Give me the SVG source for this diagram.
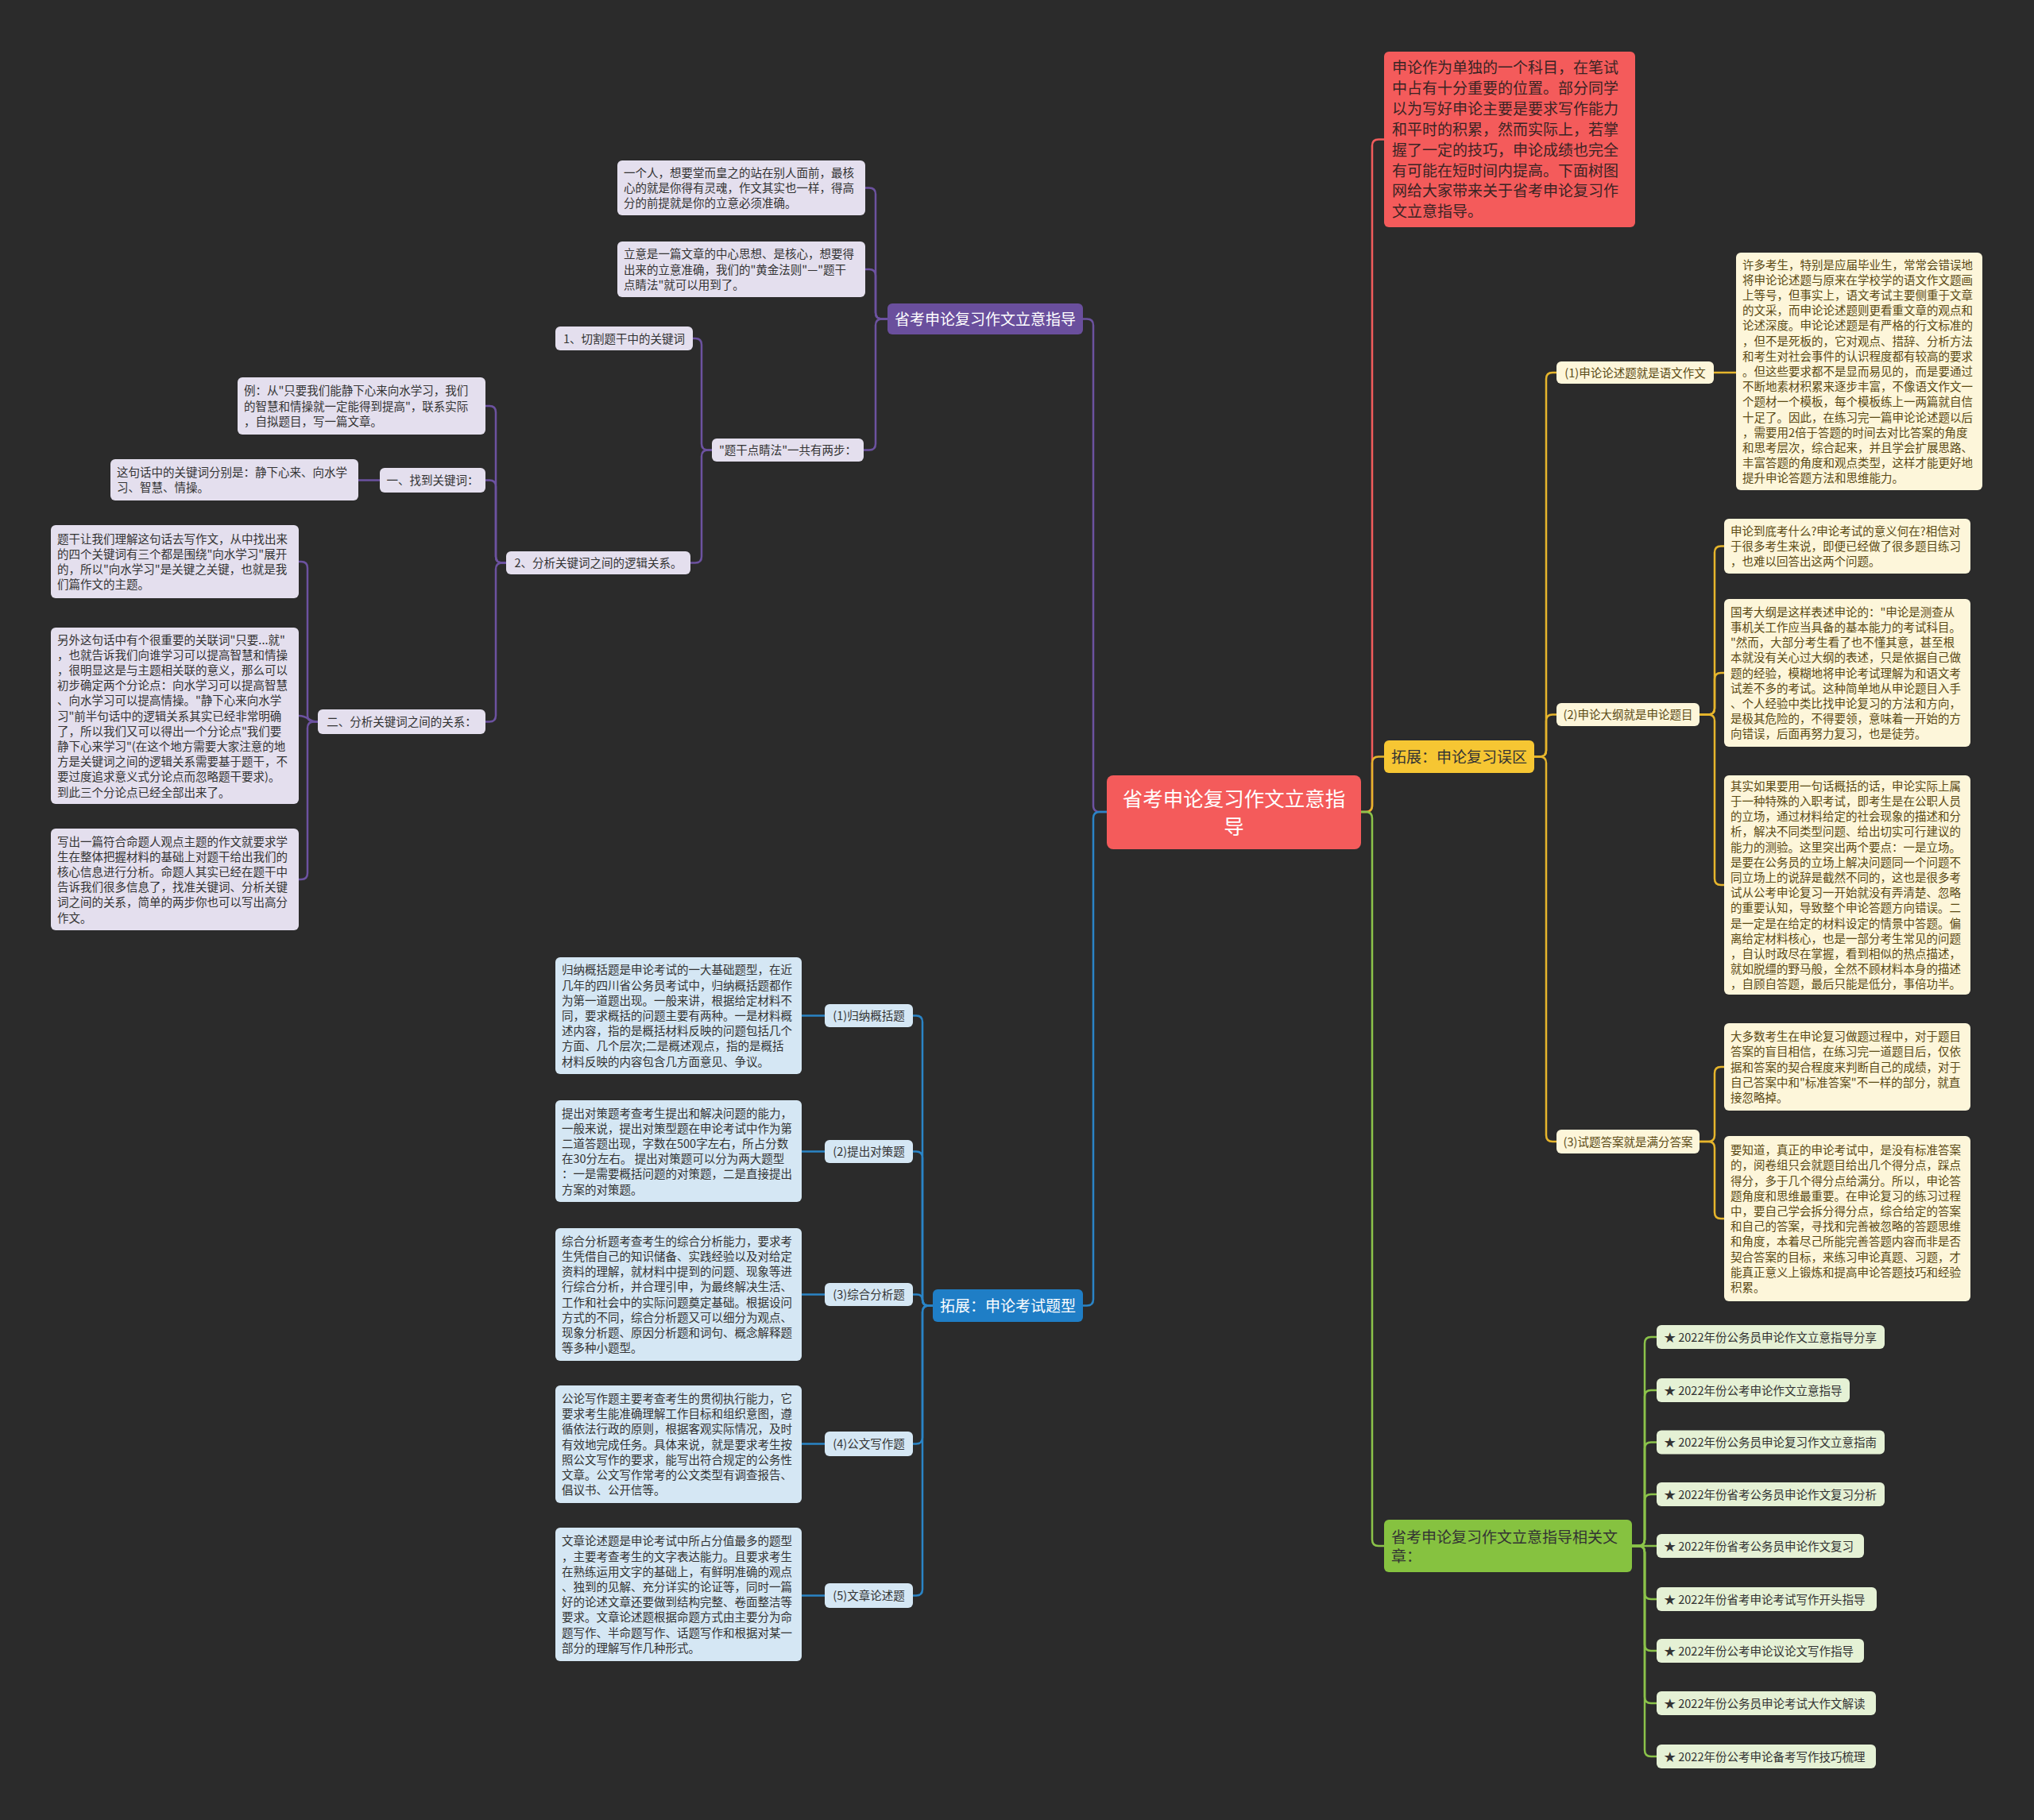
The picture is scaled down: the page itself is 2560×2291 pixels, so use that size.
<svg xmlns="http://www.w3.org/2000/svg" width="2560" height="2291" viewBox="0 0 2560 2291">
<style>
.bg{fill:#2b2b2b}
.t{font-family:"Noto Sans CJK SC","Noto Sans",sans-serif;font-size:14.5px;fill:#333}
.ty{fill:#5b4a14}
.big{font-family:"Noto Sans CJK SC","Noto Sans",sans-serif;font-size:19px}
.ctr{font-family:"Noto Sans CJK SC","Noto Sans",sans-serif;font-size:25.5px;fill:#fff}
.mid{text-anchor:middle}
.w{fill:#fff}
.d{fill:#333}
.lp{fill:#e4dfee}
.lb{fill:#d5e7f4}
.ly{fill:#fdf6da}
.lg{fill:#e5f1d5}
.c{fill:none;stroke-width:2.5}
.cp{stroke:#6c52a0}
.cb{stroke:#2a84c6}
.cy{stroke:#e6b52c}
.cg{stroke:#8bc34a}
.cr{stroke:#f25c5c}
</style>
<rect class="bg" x="0" y="0" width="2560" height="2291"/>

<g id="connectors">
<path class="c cp" d="M1393,1022 H1384 Q1376,1022 1376,1014 V409.5 Q1376,401.5 1368,401.5 H1363"/>
<path class="c cb" d="M1393,1022 H1384 Q1376,1022 1376,1030 V1635.5 Q1376,1643.5 1368,1643.5 H1363"/>
<path class="c cr" d="M1713,1022 H1719 Q1727,1022 1727,1014 V183.5 Q1727,175.5 1735,175.5 H1742"/>
<path class="c cy" d="M1713,1022 H1719 Q1727,1022 1727,1014 V960.5 Q1727,952.5 1735,952.5 H1742"/>
<path class="c cg" d="M1713,1022 H1719 Q1727,1022 1727,1030 V1938 Q1727,1946 1735,1946 H1742"/>

<path class="c cp" d="M1117,401.5 H1110 Q1102,401.5 1102,393.5 V244.5 Q1102,236.5 1094,236.5 H1089"/>
<path class="c cp" d="M1117,401.5 H1110 Q1102,401.5 1102,393.5 V347 Q1102,339 1094,339 H1089"/>
<path class="c cp" d="M1117,401.5 H1110 Q1102,401.5 1102,409.5 V558.5 Q1102,566.5 1094,566.5 H1087"/>
<path class="c cp" d="M896,566.5 H891 Q883,566.5 883,558.5 V434 Q883,426 875,426 H872"/>
<path class="c cp" d="M896,566.5 H891 Q883,566.5 883,574.5 V700.5 Q883,708.5 875,708.5 H869"/>
<path class="c cp" d="M637,708.5 H632 Q624,708.5 624,700.5 V519 Q624,511 616,511 H611"/>
<path class="c cp" d="M637,708.5 H632 Q624,708.5 624,700.5 V612.5 Q624,604.5 616,604.5 H611"/>
<path class="c cp" d="M637,708.5 H632 Q624,708.5 624,716.5 V900.5 Q624,908.5 616,908.5 H611"/>
<path class="c cp" d="M478,604.5 H451"/>
<path class="c cp" d="M400,908.5 H395 Q387,908.5 387,900.5 V715 Q387,707 379,707 H376"/>
<path class="c cp" d="M400,908.5 C387,908.5 389,901 376,901"/>
<path class="c cp" d="M400,908.5 H395 Q387,908.5 387,916.5 V1099 Q387,1107 379,1107 H376"/>

<path class="c cb" d="M1174,1643.5 H1169 Q1161,1643.5 1161,1635.5 V1286.5 Q1161,1278.5 1153,1278.5 H1149"/>
<path class="c cb" d="M1174,1643.5 H1169 Q1161,1643.5 1161,1635.5 V1457.5 Q1161,1449.5 1153,1449.5 H1149"/>
<path class="c cb" d="M1174,1643.5 H1168 Q1161,1643.5 1161,1636.5 Q1161,1629.5 1154,1629.5 H1149"/>
<path class="c cb" d="M1174,1643.5 H1169 Q1161,1643.5 1161,1651.5 V1809.5 Q1161,1817.5 1153,1817.5 H1149"/>
<path class="c cb" d="M1174,1643.5 H1169 Q1161,1643.5 1161,1651.5 V2000.5 Q1161,2008.5 1153,2008.5 H1149"/>
<path class="c cb" d="M1038,1278.5 H1009"/>
<path class="c cb" d="M1038,1449.5 H1009"/>
<path class="c cb" d="M1038,1629.5 H1009"/>
<path class="c cb" d="M1038,1817.5 H1009"/>
<path class="c cb" d="M1038,2008.5 H1009"/>

<path class="c cy" d="M1931,952.5 H1938 Q1946,952.5 1946,944.5 V477 Q1946,469 1954,469 H1959"/>
<path class="c cy" d="M1931,952.5 H1938 Q1946,952.5 1946,944.5 V907.5 Q1946,899.5 1954,899.5 H1959"/>
<path class="c cy" d="M1931,952.5 H1938 Q1946,952.5 1946,960.5 V1429 Q1946,1437 1954,1437 H1959"/>
<path class="c cy" d="M2157,469 H2185"/>
<path class="c cy" d="M2139,899.5 H2150 Q2158,899.5 2158,891.5 V695.5 Q2158,687.5 2166,687.5 H2170"/>
<path class="c cy" d="M2139,899.5 H2150 Q2158,899.5 2158,891.5 V855 Q2158,847 2166,847 H2170"/>
<path class="c cy" d="M2139,899.5 H2150 Q2158,899.5 2158,907.5 V1106 Q2158,1114 2166,1114 H2170"/>
<path class="c cy" d="M2139,1437 H2150 Q2158,1437 2158,1429 V1351 Q2158,1343 2166,1343 H2170"/>
<path class="c cy" d="M2139,1437 H2150 Q2158,1437 2158,1445 V1526 Q2158,1534 2166,1534 H2170"/>

<path class="c cg" d="M2054,1946 H2062 Q2070,1946 2070,1938 V1691 Q2070,1683 2078,1683 H2085"/>
<path class="c cg" d="M2054,1946 H2062 Q2070,1946 2070,1938 V1758 Q2070,1750 2078,1750 H2085"/>
<path class="c cg" d="M2054,1946 H2062 Q2070,1946 2070,1938 V1823.5 Q2070,1815.5 2078,1815.5 H2085"/>
<path class="c cg" d="M2054,1946 H2062 Q2070,1946 2070,1938 V1889 Q2070,1881 2078,1881 H2085"/>
<path class="c cg" d="M2054,1946 H2085"/>
<path class="c cg" d="M2054,1946 H2062 Q2070,1946 2070,1954 V2005 Q2070,2013 2078,2013 H2085"/>
<path class="c cg" d="M2054,1946 H2062 Q2070,1946 2070,1954 V2070 Q2070,2078 2078,2078 H2085"/>
<path class="c cg" d="M2054,1946 H2062 Q2070,1946 2070,1954 V2136 Q2070,2144 2078,2144 H2085"/>
<path class="c cg" d="M2054,1946 H2062 Q2070,1946 2070,1954 V2203 Q2070,2211 2078,2211 H2085"/>
</g>

<g id="center">
<rect x="1393" y="976" width="320" height="93" rx="8" fill="#f45b5b"/>
<text class="ctr mid" x="1553" y="1015.4">省考申论复习作文立意指</text>
<text class="ctr mid" x="1553" y="1049.7">导</text>
</g>

<g id="intro">
<rect x="1742" y="65" width="316" height="221" rx="6" fill="#f45b5b"/>
<text class="big" fill="#3a2424" x="1752" y="92"><tspan x="1752">申论作为单独的一个科目，在笔试</tspan><tspan x="1752" dy="25.9">中占有十分重要的位置。部分同学</tspan><tspan x="1752" dy="25.9">以为写好申论主要是要求写作能力</tspan><tspan x="1752" dy="25.9">和平时的积累，然而实际上，若掌</tspan><tspan x="1752" dy="25.9">握了一定的技巧，申论成绩也完全</tspan><tspan x="1752" dy="25.9">有可能在短时间内提高。下面树图</tspan><tspan x="1752" dy="25.9">网给大家带来关于省考申论复习作</tspan><tspan x="1752" dy="25.9">文立意指导。</tspan></text>
</g>

<g id="purple-main">
<rect x="1117" y="382" width="246" height="39" rx="6" fill="#6a4f9d"/>
<text class="big w mid" x="1240" y="408.7">省考申论复习作文立意指导</text>
</g>
<g id="p-a">
<rect class="lp" x="777" y="202" width="312" height="69" rx="6"/>
<text class="t" x="785" y="222.8"><tspan x="785">一个人，想要堂而皇之的站在别人面前，最核</tspan><tspan x="785" dy="19.2">心的就是你得有灵魂，作文其实也一样，得高</tspan><tspan x="785" dy="19.2">分的前提就是你的立意必须准确。</tspan></text>
</g>
<g id="p-b">
<rect class="lp" x="777" y="304" width="312" height="70" rx="6"/>
<text class="t" x="785" y="325.3"><tspan x="785">立意是一篇文章的中心思想、是核心，想要得</tspan><tspan x="785" dy="19.2">出来的立意准确，我们的"黄金法则"—"题干</tspan><tspan x="785" dy="19.2">点睛法"就可以用到了。</tspan></text>
</g>
<g id="p-c">
<rect class="lp" x="896" y="552" width="191" height="29" rx="6"/>
<text class="t mid" x="991.5" y="572">"题干点睛法"一共有两步：</text>
</g>
<g id="p-d">
<rect class="lp" x="699" y="411" width="173" height="30" rx="6"/>
<text class="t mid" x="785.5" y="431.5">1、切割题干中的关键词</text>
</g>
<g id="p-e">
<rect class="lp" x="637" y="694" width="232" height="29" rx="6"/>
<text class="t mid" x="753" y="714">2、分析关键词之间的逻辑关系。</text>
</g>
<g id="p-f">
<rect class="lp" x="299" y="475" width="312" height="72" rx="6"/>
<text class="t" x="307" y="497.3"><tspan x="307">例：从"只要我们能静下心来向水学习，我们</tspan><tspan x="307" dy="19.2">的智慧和情操就一定能得到提高"，联系实际</tspan><tspan x="307" dy="19.2">，自拟题目，写一篇文章。</tspan></text>
</g>
<g id="p-g">
<rect class="lp" x="478" y="589" width="133" height="31" rx="6"/>
<text class="t mid" x="544.5" y="610">一、找到关键词：</text>
</g>
<g id="p-h">
<rect class="lp" x="139" y="578" width="312" height="52" rx="6"/>
<text class="t" x="147" y="599.9"><tspan x="147">这句话中的关键词分别是：静下心来、向水学</tspan><tspan x="147" dy="19.2">习、智慧、情操。</tspan></text>
</g>
<g id="p-i">
<rect class="lp" x="400" y="893" width="211" height="31" rx="6"/>
<text class="t mid" x="505.5" y="914">二、分析关键词之间的关系：</text>
</g>
<g id="p-j">
<rect class="lp" x="64" y="661" width="312" height="92" rx="6"/>
<text class="t" x="72" y="683.7"><tspan x="72">题干让我们理解这句话去写作文，从中找出来</tspan><tspan x="72" dy="19.2">的四个关键词有三个都是围绕"向水学习"展开</tspan><tspan x="72" dy="19.2">的，所以"向水学习"是关键之关键，也就是我</tspan><tspan x="72" dy="19.2">们篇作文的主题。</tspan></text>
</g>
<g id="p-k">
<rect class="lp" x="64" y="790" width="312" height="222" rx="6"/>
<text class="t" x="72" y="810.5"><tspan x="72">另外这句话中有个很重要的关联词"只要...就"</tspan><tspan x="72" dy="19.2">，也就告诉我们向谁学习可以提高智慧和情操</tspan><tspan x="72" dy="19.2">，很明显这是与主题相关联的意义，那么可以</tspan><tspan x="72" dy="19.2">初步确定两个分论点：向水学习可以提高智慧</tspan><tspan x="72" dy="19.2">、向水学习可以提高情操。"静下心来向水学</tspan><tspan x="72" dy="19.2">习"前半句话中的逻辑关系其实已经非常明确</tspan><tspan x="72" dy="19.2">了，所以我们又可以得出一个分论点"我们要</tspan><tspan x="72" dy="19.2">静下心来学习"(在这个地方需要大家注意的地</tspan><tspan x="72" dy="19.2">方是关键词之间的逻辑关系需要基于题干，不</tspan><tspan x="72" dy="19.2">要过度追求意义式分论点而忽略题干要求)。</tspan><tspan x="72" dy="19.2">到此三个分论点已经全部出来了。</tspan></text>
</g>
<g id="p-l">
<rect class="lp" x="64" y="1043" width="312" height="128" rx="6"/>
<text class="t" x="72" y="1064.5"><tspan x="72">写出一篇符合命题人观点主题的作文就要求学</tspan><tspan x="72" dy="19.2">生在整体把握材料的基础上对题干给出我们的</tspan><tspan x="72" dy="19.2">核心信息进行分析。命题人其实已经在题干中</tspan><tspan x="72" dy="19.2">告诉我们很多信息了，找准关键词、分析关键</tspan><tspan x="72" dy="19.2">词之间的关系，简单的两步你也可以写出高分</tspan><tspan x="72" dy="19.2">作文。</tspan></text>
</g>

<g id="blue-main">
<rect x="1174" y="1623" width="189" height="41" rx="6" fill="#1f7ec6"/>
<text class="big w mid" x="1268.5" y="1650.7">拓展：申论考试题型</text>
</g>
<g id="b1">
<rect class="lb" x="1038" y="1264" width="111" height="29" rx="6"/>
<text class="t mid" x="1093.5" y="1284">(1)归纳概括题</text>
</g>
<g id="b2">
<rect class="lb" x="1038" y="1435" width="111" height="29" rx="6"/>
<text class="t mid" x="1093.5" y="1455">(2)提出对策题</text>
</g>
<g id="b3">
<rect class="lb" x="1038" y="1615" width="111" height="29" rx="6"/>
<text class="t mid" x="1093.5" y="1635">(3)综合分析题</text>
</g>
<g id="b4">
<rect class="lb" x="1038" y="1802" width="111" height="31" rx="6"/>
<text class="t mid" x="1093.5" y="1823">(4)公文写作题</text>
</g>
<g id="b5">
<rect class="lb" x="1038" y="1993" width="111" height="31" rx="6"/>
<text class="t mid" x="1093.5" y="2014">(5)文章论述题</text>
</g>
<g id="b1t">
<rect class="lb" x="699" y="1205" width="310" height="147" rx="6"/>
<text class="t" x="707" y="1226.4"><tspan x="707">归纳概括题是申论考试的一大基础题型，在近</tspan><tspan x="707" dy="19.2">几年的四川省公务员考试中，归纳概括题都作</tspan><tspan x="707" dy="19.2">为第一道题出现。一般来讲，根据给定材料不</tspan><tspan x="707" dy="19.2">同，要求概括的问题主要有两种。一是材料概</tspan><tspan x="707" dy="19.2">述内容，指的是概括材料反映的问题包括几个</tspan><tspan x="707" dy="19.2">方面、几个层次;二是概述观点，指的是概括</tspan><tspan x="707" dy="19.2">材料反映的内容包含几方面意见、争议。</tspan></text>
</g>
<g id="b2t">
<rect class="lb" x="699" y="1385" width="310" height="128" rx="6"/>
<text class="t" x="707" y="1406.5"><tspan x="707">提出对策题考查考生提出和解决问题的能力，</tspan><tspan x="707" dy="19.2">一般来说，提出对策型题在申论考试中作为第</tspan><tspan x="707" dy="19.2">二道答题出现，字数在500字左右，所占分数</tspan><tspan x="707" dy="19.2">在30分左右。 提出对策题可以分为两大题型</tspan><tspan x="707" dy="19.2">：一是需要概括问题的对策题，二是直接提出</tspan><tspan x="707" dy="19.2">方案的对策题。</tspan></text>
</g>
<g id="b3t">
<rect class="lb" x="699" y="1546" width="310" height="167" rx="6"/>
<text class="t" x="707" y="1567.8"><tspan x="707">综合分析题考查考生的综合分析能力，要求考</tspan><tspan x="707" dy="19.2">生凭借自己的知识储备、实践经验以及对给定</tspan><tspan x="707" dy="19.2">资料的理解，就材料中提到的问题、现象等进</tspan><tspan x="707" dy="19.2">行综合分析，并合理引申，为最终解决生活、</tspan><tspan x="707" dy="19.2">工作和社会中的实际问题奠定基础。根据设问</tspan><tspan x="707" dy="19.2">方式的不同，综合分析题又可以细分为观点、</tspan><tspan x="707" dy="19.2">现象分析题、原因分析题和词句、概念解释题</tspan><tspan x="707" dy="19.2">等多种小题型。</tspan></text>
</g>
<g id="b4t">
<rect class="lb" x="699" y="1744" width="310" height="148" rx="6"/>
<text class="t" x="707" y="1765.9"><tspan x="707">公论写作题主要考查考生的贯彻执行能力，它</tspan><tspan x="707" dy="19.2">要求考生能准确理解工作目标和组织意图，遵</tspan><tspan x="707" dy="19.2">循依法行政的原则，根据客观实际情况，及时</tspan><tspan x="707" dy="19.2">有效地完成任务。具体来说，就是要求考生按</tspan><tspan x="707" dy="19.2">照公文写作的要求，能写出符合规定的公务性</tspan><tspan x="707" dy="19.2">文章。公文写作常考的公文类型有调查报告、</tspan><tspan x="707" dy="19.2">倡议书、公开信等。</tspan></text>
</g>
<g id="b5t">
<rect class="lb" x="699" y="1923" width="310" height="168" rx="6"/>
<text class="t" x="707" y="1945.3"><tspan x="707">文章论述题是申论考试中所占分值最多的题型</tspan><tspan x="707" dy="19.2">，主要考查考生的文字表达能力。且要求考生</tspan><tspan x="707" dy="19.2">在熟练运用文字的基础上，有鲜明准确的观点</tspan><tspan x="707" dy="19.2">、独到的见解、充分详实的论证等，同时一篇</tspan><tspan x="707" dy="19.2">好的论述文章还要做到结构完整、卷面整洁等</tspan><tspan x="707" dy="19.2">要求。文章论述题根据命题方式由主要分为命</tspan><tspan x="707" dy="19.2">题写作、半命题写作、话题写作和根据对某一</tspan><tspan x="707" dy="19.2">部分的理解写作几种形式。</tspan></text>
</g>

<g id="yellow-main">
<rect x="1742" y="932" width="189" height="41" rx="6" fill="#f6c633"/>
<text class="big d mid" x="1836.5" y="959.7">拓展：申论复习误区</text>
</g>
<g id="y1">
<rect class="ly" x="1959" y="455" width="198" height="28" rx="6"/>
<text class="t ty mid" x="2058" y="474.5">(1)申论论述题就是语文作文</text>
</g>
<g id="y2">
<rect class="ly" x="1959" y="885" width="180" height="29" rx="6"/>
<text class="t ty mid" x="2049" y="905">(2)申论大纲就是申论题目</text>
</g>
<g id="y3">
<rect class="ly" x="1959" y="1422" width="180" height="30" rx="6"/>
<text class="t ty mid" x="2049" y="1442.5">(3)试题答案就是满分答案</text>
</g>
<g id="y1t">
<rect class="ly" x="2185" y="318" width="310" height="299" rx="6"/>
<text class="t ty" x="2193" y="338.6"><tspan x="2193">许多考生，特别是应届毕业生，常常会错误地</tspan><tspan x="2193" dy="19.2">将申论论述题与原来在学校学的语文作文题画</tspan><tspan x="2193" dy="19.2">上等号，但事实上，语文考试主要侧重于文章</tspan><tspan x="2193" dy="19.2">的文采，而申论论述题则更看重文章的观点和</tspan><tspan x="2193" dy="19.2">论述深度。申论论述题是有严格的行文标准的</tspan><tspan x="2193" dy="19.2">，但不是死板的，它对观点、措辞、分析方法</tspan><tspan x="2193" dy="19.2">和考生对社会事件的认识程度都有较高的要求</tspan><tspan x="2193" dy="19.2">。但这些要求都不是显而易见的，而是要通过</tspan><tspan x="2193" dy="19.2">不断地素材积累来逐步丰富，不像语文作文一</tspan><tspan x="2193" dy="19.2">个题材一个模板，每个模板练上一两篇就自信</tspan><tspan x="2193" dy="19.2">十足了。因此，在练习完一篇申论论述题以后</tspan><tspan x="2193" dy="19.2">，需要用2倍于答题的时间去对比答案的角度</tspan><tspan x="2193" dy="19.2">和思考层次，综合起来，并且学会扩展思路、</tspan><tspan x="2193" dy="19.2">丰富答题的角度和观点类型，这样才能更好地</tspan><tspan x="2193" dy="19.2">提升申论答题方法和思维能力。</tspan></text>
</g>
<g id="y2a">
<rect class="ly" x="2170" y="653" width="310" height="69" rx="6"/>
<text class="t ty" x="2178" y="673.8"><tspan x="2178">申论到底考什么?申论考试的意义何在?相信对</tspan><tspan x="2178" dy="19.2">于很多考生来说，即便已经做了很多题目练习</tspan><tspan x="2178" dy="19.2">，也难以回答出这两个问题。</tspan></text>
</g>
<g id="y2b">
<rect class="ly" x="2170" y="754" width="310" height="186" rx="6"/>
<text class="t ty" x="2178" y="775.7"><tspan x="2178">国考大纲是这样表述申论的："申论是测查从</tspan><tspan x="2178" dy="19.2">事机关工作应当具备的基本能力的考试科目。</tspan><tspan x="2178" dy="19.2">"然而，大部分考生看了也不懂其意，甚至根</tspan><tspan x="2178" dy="19.2">本就没有关心过大纲的表述，只是依据自己做</tspan><tspan x="2178" dy="19.2">题的经验，模糊地将申论考试理解为和语文考</tspan><tspan x="2178" dy="19.2">试差不多的考试。这种简单地从申论题目入手</tspan><tspan x="2178" dy="19.2">、个人经验中类比找申论复习的方法和方向，</tspan><tspan x="2178" dy="19.2">是极其危险的，不得要领，意味着一开始的方</tspan><tspan x="2178" dy="19.2">向错误，后面再努力复习，也是徒劳。</tspan></text>
</g>
<g id="y2c">
<rect class="ly" x="2170" y="976" width="310" height="276" rx="6"/>
<text class="t ty" x="2178" y="994.7"><tspan x="2178">其实如果要用一句话概括的话，申论实际上属</tspan><tspan x="2178" dy="19.2">于一种特殊的入职考试，即考生是在公职人员</tspan><tspan x="2178" dy="19.2">的立场，通过材料给定的社会现象的描述和分</tspan><tspan x="2178" dy="19.2">析，解决不同类型问题、给出切实可行建议的</tspan><tspan x="2178" dy="19.2">能力的测验。这里突出两个要点：一是立场。</tspan><tspan x="2178" dy="19.2">是要在公务员的立场上解决问题同一个问题不</tspan><tspan x="2178" dy="19.2">同立场上的说辞是截然不同的，这也是很多考</tspan><tspan x="2178" dy="19.2">试从公考申论复习一开始就没有弄清楚、忽略</tspan><tspan x="2178" dy="19.2">的重要认知，导致整个申论答题方向错误。二</tspan><tspan x="2178" dy="19.2">是一定是在给定的材料设定的情景中答题。偏</tspan><tspan x="2178" dy="19.2">离给定材料核心，也是一部分考生常见的问题</tspan><tspan x="2178" dy="19.2">，自认时政尽在掌握，看到相似的热点描述，</tspan><tspan x="2178" dy="19.2">就如脱缰的野马般，全然不顾材料本身的描述</tspan><tspan x="2178" dy="19.2">，自顾自答题，最后只能是低分，事倍功半。</tspan></text>
</g>
<g id="y3a">
<rect class="ly" x="2170" y="1288" width="310" height="110" rx="6"/>
<text class="t ty" x="2178" y="1310.1"><tspan x="2178">大多数考生在申论复习做题过程中，对于题目</tspan><tspan x="2178" dy="19.2">答案的盲目相信，在练习完一道题目后，仅依</tspan><tspan x="2178" dy="19.2">据和答案的契合程度来判断自己的成绩，对于</tspan><tspan x="2178" dy="19.2">自己答案中和"标准答案"不一样的部分，就直</tspan><tspan x="2178" dy="19.2">接忽略掉。</tspan></text>
</g>
<g id="y3b">
<rect class="ly" x="2170" y="1430" width="310" height="208" rx="6"/>
<text class="t ty" x="2178" y="1453.1"><tspan x="2178">要知道，真正的申论考试中，是没有标准答案</tspan><tspan x="2178" dy="19.2">的，阅卷组只会就题目给出几个得分点，踩点</tspan><tspan x="2178" dy="19.2">得分，多于几个得分点给满分。所以，申论答</tspan><tspan x="2178" dy="19.2">题角度和思维最重要。在申论复习的练习过程</tspan><tspan x="2178" dy="19.2">中，要自己学会拆分得分点，综合给定的答案</tspan><tspan x="2178" dy="19.2">和自己的答案，寻找和完善被忽略的答题思维</tspan><tspan x="2178" dy="19.2">和角度，本着尽己所能完善答题内容而非是否</tspan><tspan x="2178" dy="19.2">契合答案的目标，来练习申论真题、习题，才</tspan><tspan x="2178" dy="19.2">能真正意义上锻炼和提高申论答题技巧和经验</tspan><tspan x="2178" dy="19.2">积累。</tspan></text>
</g>

<g id="green-main">
<rect x="1742" y="1913" width="312" height="66" rx="6" fill="#86c240"/>
<text class="big d" x="1751" y="1942.2"><tspan x="1751">省考申论复习作文立意指导相关文</tspan><tspan x="1751" dy="24">章：</tspan></text>
</g>
<g id="g1"><rect class="lg" x="2085" y="1668" width="287" height="30" rx="6"/><text class="t" x="2094.5" y="1688.5">★ 2022年份公务员申论作文立意指导分享</text></g>
<g id="g2"><rect class="lg" x="2085" y="1735" width="243" height="30" rx="6"/><text class="t" x="2094.5" y="1755.5">★ 2022年份公考申论作文立意指导</text></g>
<g id="g3"><rect class="lg" x="2085" y="1800.5" width="287" height="30" rx="6"/><text class="t" x="2094.5" y="1821">★ 2022年份公务员申论复习作文立意指南</text></g>
<g id="g4"><rect class="lg" x="2085" y="1866" width="287" height="30" rx="6"/><text class="t" x="2094.5" y="1886.5">★ 2022年份省考公务员申论作文复习分析</text></g>
<g id="g5"><rect class="lg" x="2085" y="1931" width="261" height="30" rx="6"/><text class="t" x="2094.5" y="1951.5">★ 2022年份省考公务员申论作文复习</text></g>
<g id="g6"><rect class="lg" x="2085" y="1998" width="277" height="30" rx="6"/><text class="t" x="2094.5" y="2018.5">★ 2022年份省考申论考试写作开头指导</text></g>
<g id="g7"><rect class="lg" x="2085" y="2063" width="261" height="30" rx="6"/><text class="t" x="2094.5" y="2083.5">★ 2022年份公考申论议论文写作指导</text></g>
<g id="g8"><rect class="lg" x="2085" y="2129" width="276" height="30" rx="6"/><text class="t" x="2094.5" y="2149.5">★ 2022年份公务员申论考试大作文解读</text></g>
<g id="g9"><rect class="lg" x="2085" y="2196" width="276" height="30" rx="6"/><text class="t" x="2094.5" y="2216.5">★ 2022年份公考申论备考写作技巧梳理</text></g>
</svg>
